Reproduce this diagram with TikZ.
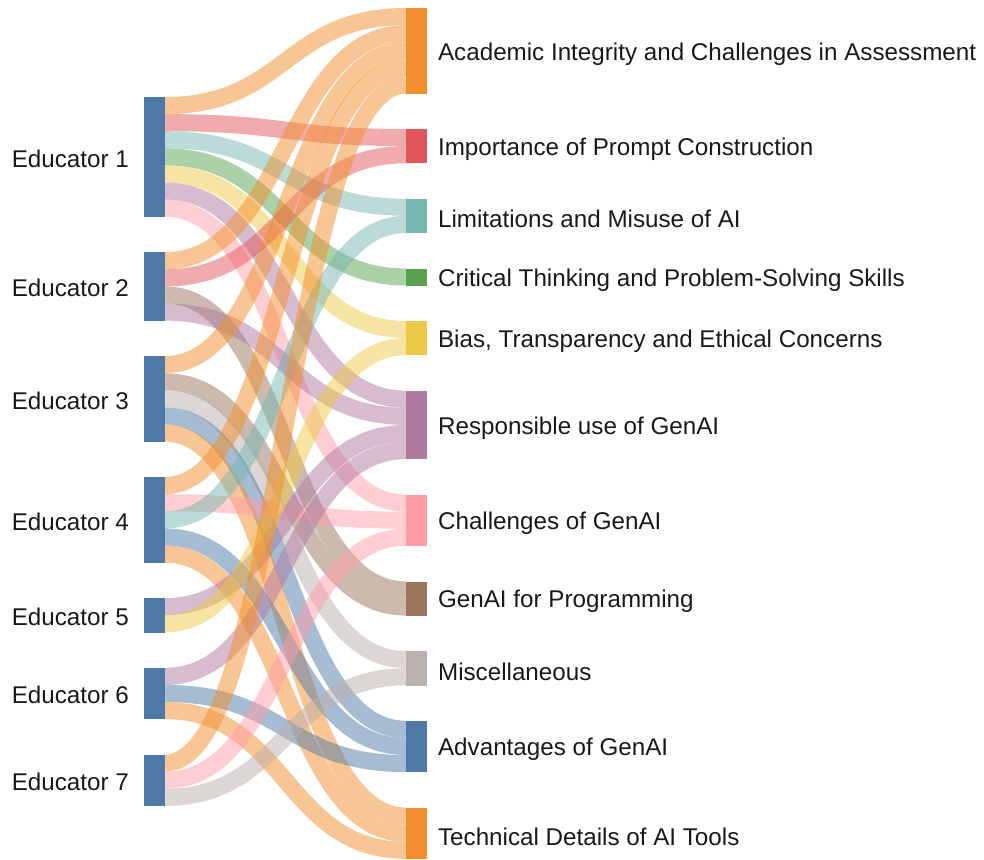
\documentclass[tikz,border=0pt]{standalone}
\usepackage{fontspec}
\setmainfont{Liberation Sans}
\definecolor{tbBlue}{HTML}{4E79A7}
\definecolor{tbOrange}{HTML}{F28E2B}
\definecolor{tbRed}{HTML}{E15759}
\definecolor{tbTeal}{HTML}{76B7B2}
\definecolor{tbGreen}{HTML}{59A14F}
\definecolor{tbYellow}{HTML}{EDC948}
\definecolor{tbPurple}{HTML}{B07AA1}
\definecolor{tbPink}{HTML}{FF9DA7}
\definecolor{tbBrown}{HTML}{9C755F}
\definecolor{tbGray}{HTML}{BAB0AC}
\pgfdeclarelayer{bg}
\pgfsetlayers{bg,main}
\tikzstyle{bar}=[rectangle,inner sep=0pt,minimum width=20.5pt,anchor=north west]
\tikzstyle{lab}=[inner sep=0pt,text=black!90,font=\fontsize{24.2}{29}\selectfont]
\tikzstyle{lnk}=[line width=17.1pt,opacity=.5]

\begin{document}
\begin{tikzpicture}[x=1pt,y=-1pt]
\useasboundingbox (0,0) rectangle (984,859);
% educators
\foreach \i/\y/\h in {1/97/7,2/252.2/4,3/356.1/5,4/477.1/5,5/598.1/2,6/667.8/3,7/754.6/3} {
\node[bar,fill=tbBlue,minimum height=\h*17.1pt] (e\i) at (144,\y) {};
\node[lab,anchor=east] (le\i) at ([xshift=-15pt,yshift=-1.5pt]e\i.west) {Educator \i};}
% themes
\foreach \i/\y/\h/\c/\t in {1/8/5/tbOrange/Academic Integrity and Challenges in Assessment,
 2/129/2/tbRed/Importance of Prompt Construction,
 3/198.7/2/tbTeal/Limitations and Misuse of AI,
 4/268.4/1/tbGreen/Critical Thinking and Problem-Solving Skills,
 5/321/2/tbYellow/{Bias, Transparency and Ethical Concerns},
 6/390.7/4/tbPurple/Responsible use of GenAI,
 7/494.6/3/tbPink/Challenges of GenAI,
 8/581.4/2/tbBrown/GenAI for Programming,
 9/651.1/2/tbGray/Miscellaneous,
 10/720.8/3/tbBlue/Advantages of GenAI,
 11/807.6/3/tbOrange/Technical Details of AI Tools} {
\node[bar,fill=\c,minimum height=\h*17.1pt] (t\i) at (406,\y) {};
\node[lab,anchor=west] (lt\i) at ([xshift=11pt,yshift=-3pt]t\i.east) {\t};}
% flows
\begin{pgfonlayer}{bg}
\foreach \s/\k/\d/\m/\c in {1/1/1/1/tbOrange,1/2/2/1/tbRed,1/3/3/1/tbTeal,1/4/4/1/tbGreen,
 1/5/5/1/tbYellow,1/6/6/1/tbPurple,1/7/7/1/tbPink,
 2/1/1/2/tbOrange,2/2/2/2/tbRed,2/3/8/1/tbBrown,2/4/6/2/tbPurple,
 3/1/1/3/tbOrange,3/2/8/2/tbBrown,3/3/9/1/tbGray,3/4/10/1/tbBlue,3/5/11/1/tbOrange,
 4/1/1/4/tbOrange,4/2/7/2/tbPink,4/3/3/2/tbTeal,4/4/10/2/tbBlue,4/5/11/2/tbOrange,
 5/1/6/3/tbPurple,5/2/5/2/tbYellow,
 6/1/6/4/tbPurple,6/2/10/3/tbBlue,6/3/11/3/tbOrange,
 7/1/1/5/tbOrange,7/2/7/3/tbPink,7/3/9/2/tbGray}
\draw[lnk,draw=\c] ([yshift=-(\k-.5)*17.1pt]e\s.north east) .. controls +(121,0) and +(-121,0) .. ([yshift=-(\m-.5)*17.1pt]t\d.north west);
\end{pgfonlayer}
\end{tikzpicture}
\end{document}
